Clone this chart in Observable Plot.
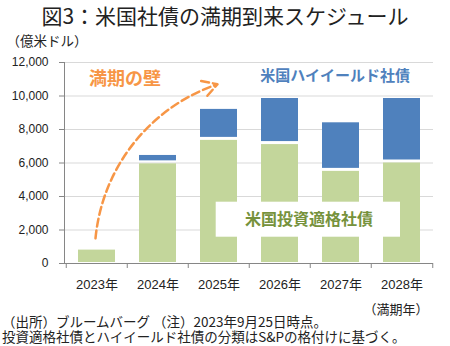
<!DOCTYPE html>
<html lang="ja">
<head>
<meta charset="utf-8">
<script src="https://cdn.jsdelivr.net/npm/d3@7"></script>
<script src="https://cdn.jsdelivr.net/npm/@observablehq/plot@0.6"></script>
<style>
  html, body { margin: 0; padding: 0; background: #fff; }
  body { position: relative; width: 450px; height: 346px; overflow: hidden; font-family: "Liberation Sans", "Noto Sans CJK JP", sans-serif; color: #222; }
  #title { height: 30px; line-height: 30px; font-size: 21px; text-align: center; font-family: "Noto Sans CJK JP", sans-serif; color: #222; }
  #chart svg { display: block; }
  #caption { position: absolute; left: 0; top: 313.5px; font-size: 13.5px; line-height: 15px; white-space: nowrap; padding-left: 2px; font-family: "Noto Sans CJK JP", sans-serif; color: #222; }
</style>
</head>
<body>
<div id="title">図3：米国社債の満期到来スケジュール</div>
<div id="chart"></div>
<div id="caption">（出所）ブルームバーグ （注）2023年9月25日時点。<br>投資適格社債とハイイールド社債の分類はS&amp;Pの格付けに基づく。</div>
<script>
// ---- data ----
const years = ["2023", "2024", "2025", "2026", "2027", "2028"];
const investmentGrade = [800, 5950, 7350, 7100, 5500, 6000];   // 米国投資適格社債
const highYield = [0, 500, 1850, 2750, 2900, 3850];             // 米国ハイイールド社債
const yTicks = [0, 2000, 4000, 6000, 8000, 10000, 12000];

const table = years.map((y, i) => ({year: y, ig: investmentGrade[i], hy: highYield[i]}));

const green = "#c3d69b", blue = "#4f81bd", orange = "#f79646";
const W = 450, H = 290, mL = 64, mR = 17, mT = 32, mB = 57;
const step = (W - mL - mR) / years.length;
const jp = '"Noto Sans CJK JP", sans-serif';

const chart = Plot.plot({
  width: W, height: H,
  marginLeft: mL, marginRight: mR, marginTop: mT, marginBottom: mB,
  style: {fontFamily: '"Liberation Sans", "Noto Sans CJK JP", sans-serif', fontSize: "12px", color: "#222", background: "transparent"},
  x: {domain: years, padding: 0, axis: null},
  y: {domain: [0, 12000], axis: null},
  marks: [
    Plot.gridY(yTicks, {stroke: "#d9d9d9", strokeOpacity: 1}),
    Plot.axisY({ticks: yTicks, tickFormat: d3.format(","), tickSize: 5, tickPadding: 11, stroke: "#868686", fontSize: 12, label: null}),
    Plot.axisX({tickFormat: () => "", tickSize: 5, dx: -step / 2, stroke: "#868686", label: null}),
    Plot.axisX({ticks: ["2028"], tickFormat: () => "", tickSize: 5, dx: step / 2, stroke: "#868686", label: null}),
    Plot.axisX({tickFormat: d => d + "年", tickSize: 0, tickPadding: 16, fontSize: 13, label: null}),
    Plot.barY(table, {x: "year", y1: 0, y2: "ig", fill: green, insetLeft: 12, insetRight: 12, insetBottom: 1}),
    Plot.barY(table.filter(d => d.hy > 0), {x: "year", y1: "ig", y2: d => d.ig + d.hy, fill: blue, insetLeft: 12, insetRight: 12, insetBottom: 3}),
    Plot.ruleY([0], {stroke: "#868686"}),
    Plot.frame({anchor: "left", stroke: "#868686"}),
    // annotation box + labels
    Plot.rect([0], {x1: () => "2025", x2: () => "2028", y1: () => 1570, y2: () => 3660, fill: "white", insetLeft: 27.7, insetRight: 32}),
    Plot.text([0], {x: () => "2026", y: () => 2620, text: () => "米国投資適格社債", dx: 29, fill: "#76923c", fontSize: 16, fontWeight: "bold", fontFamily: jp}),
    Plot.text([0], {x: () => "2028", y: () => 11180, text: () => "米国ハイイールド社債", textAnchor: "end", dx: 8, fill: "#4f81bd", fontSize: 15, fontWeight: "bold", fontFamily: jp}),
    Plot.text([0], {x: () => "2023", y: () => 11030, text: () => "満期の壁", textAnchor: "start", dx: -8, fill: orange, fontSize: 18, fontWeight: "bold", fontFamily: jp}),
    Plot.arrow([0], {x1: () => "2023", y1: () => 1500, x2: () => "2025", y2: () => 10700, dx: -1.5, bend: 33, stroke: orange, strokeWidth: 2.5, strokeDasharray: "8,4", headLength: 10}),
    Plot.text([0], {frameAnchor: "top-left", lineAnchor: "middle", text: () => "（億米ドル）", textAnchor: "start", dx: -58, dy: -21, fontSize: 13.5, fill: "#222", fontFamily: jp}),
    Plot.text([0], {frameAnchor: "bottom-right", lineAnchor: "middle", text: () => "（満期年）", textAnchor: "end", dx: -5, dy: 46, fontSize: 13, fill: "#222", fontFamily: jp})
  ]
});
document.getElementById("chart").appendChild(chart);
</script>
</body>
</html>
